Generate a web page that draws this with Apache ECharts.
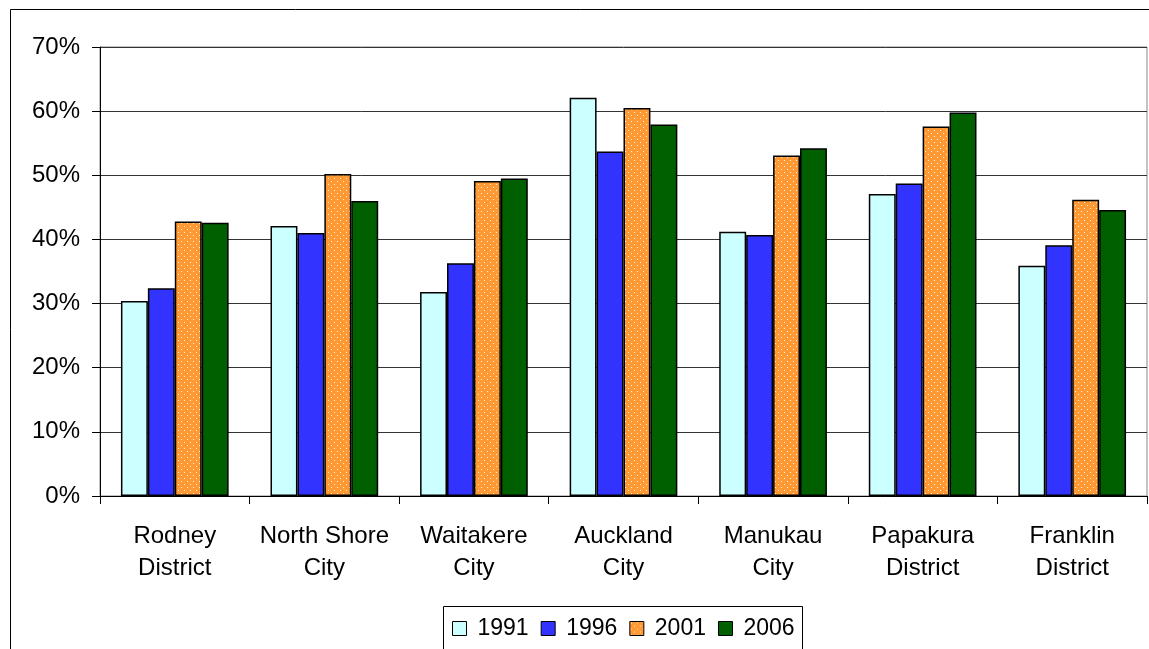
<!DOCTYPE html>
<html>
<head>
<meta charset="utf-8">
<script src="https://cdn.jsdelivr.net/npm/echarts@6/dist/echarts.min.js"></script>
<style>
  html, body { margin: 0; padding: 0; background: #fff; }
  #main { width: 1149px; height: 649px; }
</style>
</head>
<body>
<div id="main"></div>
<script>
// districts along the x axis
let categories = ['Rodney\nDistrict', 'North Shore\nCity', 'Waitakere\nCity', 'Auckland\nCity',
    'Manukau\nCity', 'Papakura\nDistrict', 'Franklin\nDistrict']
let years = ['1991', '1996', '2001', '2006']

// share in %
let values1991 = [30.4, 42.1, 31.8, 62.1, 41.2, 47.1, 35.9]
let values1996 = [32.4, 41.0, 36.3, 53.7, 40.7, 48.7, 39.1]
let values2001 = [42.8, 50.2, 49.1, 60.5, 53.1, 57.6, 46.2]
let values2006 = [42.6, 46.0, 49.5, 57.9, 54.2, 59.8, 44.6]

// dotted orange fill used for 2001
let dots = document.createElement('canvas')
dots.width = 6
dots.height = 6
let ctx = dots.getContext('2d')
ctx.fillStyle = '#ff9933'
ctx.fillRect(0, 0, 6, 6)
ctx.fillStyle = '#fff2e0'
ctx.fillRect(1, 1, 1, 1)
ctx.fillRect(4, 4, 1, 1)

let chart = echarts.init(document.querySelector('#main'))
let font = 'Liberation Sans, Arial, sans-serif'

function bar(name, data, color) {
    return {
        name: name,
        type: 'bar',
        data: data,
        barGap: 0,
        barCategoryGap: '28%',
        itemStyle: { color: color, borderColor: '#000', borderWidth: 1.5 }
    }
}

let option = {
    backgroundColor: '#fff',
    animation: false,
    textStyle: { fontFamily: font },
    graphic: [
        {
            type: 'rect',
            shape: { x: 10.5, y: 9.5, width: 1200, height: 700 },
            style: { fill: null, stroke: '#000', lineWidth: 1 },
            z: -1
        },
        {
            type: 'rect',
            shape: { x: 443.5, y: 606.5, width: 359, height: 60 },
            style: { fill: '#fff', stroke: '#000', lineWidth: 1 },
            z: 0
        }
    ],
    grid: {
        left: 100, right: 2, top: 47, bottom: 153,
        show: true, borderColor: '#888', borderWidth: 1
    },
    legend: {
        data: years,
        left: 447,
        top: 612,
        itemWidth: 14,
        itemHeight: 14,
        itemGap: 12,
        icon: 'rect',
        itemStyle: { borderColor: '#000', borderWidth: 1 },
        textStyle: { fontSize: 23, color: '#000', fontFamily: font, padding: [0, 0, 0, 6] },
        z: 10
    },
    xAxis: {
        type: 'category',
        data: categories,
        axisLine: { lineStyle: { color: '#000', width: 1 } },
        axisTick: { show: true, length: 8, lineStyle: { color: '#000' } },
        axisLabel: { fontSize: 24, color: '#000', lineHeight: 32, margin: 24, interval: 0, fontFamily: font }
    },
    yAxis: {
        type: 'value',
        min: 0,
        max: 70,
        interval: 10,
        axisLine: { show: true, lineStyle: { color: '#000', width: 1 } },
        axisTick: { show: true, length: 8, lineStyle: { color: '#000' } },
        axisLabel: { fontSize: 24, color: '#000', margin: 20, formatter: '{value}%', fontFamily: font },
        splitLine: { lineStyle: { color: '#333', width: 1 } }
    },
    series: [
        bar('1991', values1991, '#ccffff'),
        bar('1996', values1996, '#3333ff'),
        bar('2001', values2001, { image: dots, repeat: 'repeat' }),
        bar('2006', values2006, '#006000')
    ]
}

chart.setOption(option)
</script>
</body>
</html>
